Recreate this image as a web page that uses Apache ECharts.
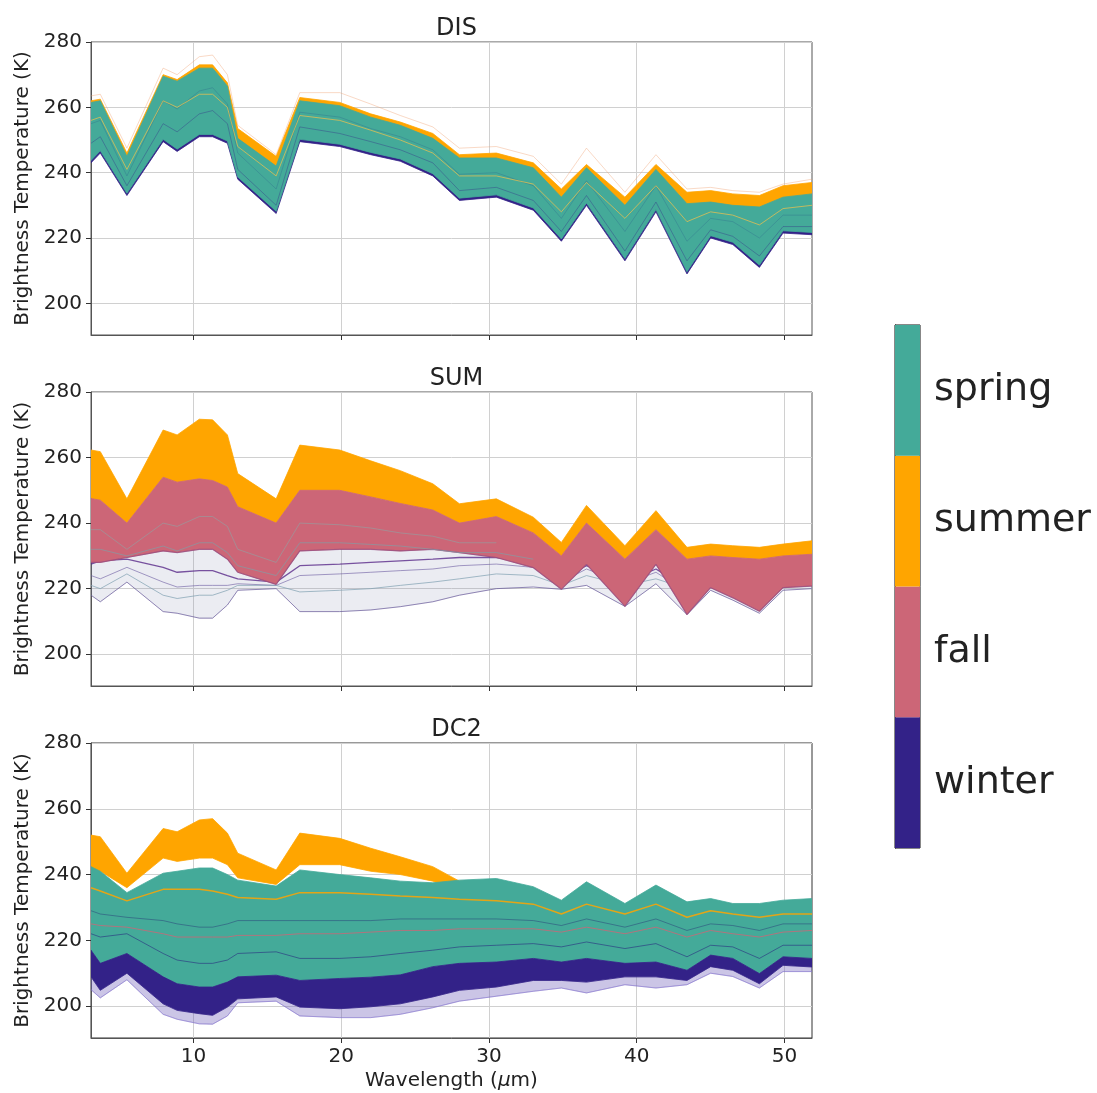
<!DOCTYPE html>
<html>
<head>
<meta charset="utf-8">
<script src="https://cdn.jsdelivr.net/npm/echarts@6/dist/echarts.min.js"></script>
<style>
html,body{margin:0;padding:0;background:#fff;}
#chart{width:1097px;height:1093px;}
</style>
</head>
<body>
<div id="chart"></div>
<script>
// ---------------- DATA ----------------
const wl = [3.07, 3.7, 5.5, 7.95, 8.9, 10.4, 11.3, 12.3, 13.0, 15.6, 17.2, 19.9, 22.0, 24.0, 26.2, 28.0, 30.5, 33.0, 34.9, 36.6, 39.2, 41.3, 43.4, 45.0, 46.5, 48.3, 49.9, 51.86];
const xTicks = [10, 20, 30, 40, 50];
const yTicks = [200, 220, 240, 260, 280];
const panelTitles = ['DIS', 'SUM', 'DC2'];
const seasonsCb = ['winter', 'fall', 'summer', 'spring'];
const seasonColors = { spring: '#44AA99', summer: '#FFA500', fall: '#CC6677', winter: '#332288' };

// DIS
const disSummerHi = [262, 262.5, 246, 270, 268.5, 273, 273, 267.5, 253.5, 245, 263, 261.5, 258, 255.5, 252, 245.5, 246, 243, 235, 242.5, 232.5, 242.5, 234, 234.5, 233.5, 233, 236, 237];
const disSummerLo = [257, 257.5, 241, 265, 263.5, 268, 268, 262.5, 248.5, 239.5, 258, 256.5, 253, 250.5, 247, 240.5, 241, 238, 229.5, 237.5, 227.5, 237.5, 228.5, 229.5, 228.5, 228, 231, 232];
const disSpringHi = [261.5, 262, 245, 269.5, 268, 272, 272, 266.5, 250.5, 242, 262, 260.5, 257, 254.5, 250.5, 244.5, 244.5, 241.5, 232.5, 241.5, 230, 241, 230.5, 231, 230, 229.5, 232.5, 233.5];
const disSpringLo = [243.7, 246.7, 233.7, 250.2, 247.2, 251.7, 251.7, 249.7, 238.7, 228.2, 250.2, 248.7, 246.2, 244.2, 239.7, 232.2, 233.2, 229.2, 219.7, 230.7, 213.7, 228.7, 209.7, 220.7, 218.7, 211.7, 222.2, 221.7];
const disWinterHi = [246.5, 249.5, 236.5, 253, 250, 254.5, 254.5, 252.5, 241.5, 231, 253, 251.5, 249, 247, 242.5, 235, 236, 232, 222.5, 233.5, 216.5, 231.5, 212.5, 223.5, 221.5, 214.5, 225, 224.5];
const disWinterLo = [243, 246, 233, 249.5, 246.5, 251, 251, 249, 238, 227.5, 249.5, 248, 245.5, 243.5, 239, 231.5, 232.5, 228.5, 219, 230, 213, 228, 209, 220, 218, 211, 221.5, 221];
const disWinterIn = [249, 251, 236, 255, 252.5, 258, 259, 255, 241, 230, 254, 252, 249.5, 247, 243, 234.5, 235.5, 231.5, 222, 233, 216, 231, 213, 222.5, 220.5, 214.5, 223.5, 223.5];
const disWinterIn2 = [255, 256, 239, 262, 259.5, 265, 266, 261, 246, 235, 258.5, 257, 253.5, 251, 247, 239.5, 240, 236, 226, 237.5, 222, 236, 219, 226, 225, 220, 227, 227];
const disSummerMid = [256, 257, 241, 262, 260, 264, 264, 260, 248, 239, 257.5, 256, 253, 250, 246, 239, 239, 236.5, 228, 237, 226, 236, 225, 228, 227, 224, 229, 230];
const disSummerOut = [263.5, 264, 247.5, 272, 270, 275.5, 276, 270, 254.5, 245.5, 264.5, 264.5, 261, 257.5, 254, 247.5, 248, 245, 236.5, 247.5, 234, 245.5, 235, 235.5, 234.5, 234, 236.5, 238];

// SUM
const sumSummerHi = [262.3, 261.8, 247.4, 268.4, 266.9, 271.7, 271.5, 266.9, 255.1, 247.4, 263.8, 262.3, 259, 256, 252, 245.9, 247.4, 241.8, 234.1, 245.4, 233.1, 243.8, 232.6, 233.6, 233.1, 232.6, 233.6, 234.6];
const sumFallHi = [247.5, 247, 240, 254, 252.5, 253.5, 253, 251, 245, 240, 250, 250, 248, 246, 244, 240, 242, 237, 230, 240, 229, 238, 229, 230, 229.5, 229, 230, 230.5];
const sumFallLo = [228, 228, 229.5, 231.5, 231, 232, 232, 229, 225, 221.3, 231.5, 232, 232, 231.5, 232, 231, 229.5, 226.4, 219.8, 227.4, 214.6, 227.4, 212.1, 220.3, 217.2, 213.1, 220.3, 220.8];
const sumLowest = [218, 216, 222, 213, 212.5, 211, 211, 215, 219.5, 220, 213, 213, 213.5, 214.5, 216, 218, 220, 220.5, 219.8, 221, 214.6, 221.5, 212.1, 219.5, 216.5, 212.5, 219.5, 220];
const sumWinterA = [227.5, 228.5, 229, 226.5, 225, 225.5, 225.5, 224, 223, 222, 227, 227.5, 228, 228.5, 229, 229.5, 229.5, 228, 223, 227, 222, 226, 220, 224, 222, 219, 222.5, 222.5];
const sumWinterB = [224, 223, 226.5, 222, 220.5, 221, 221, 221, 221.5, 221, 224, 224.5, 225, 225.5, 226, 227, 227.5, 226.5, 222, 226, 221.5, 225, 219, 223, 221.5, 218, 222, 222];
const sumSpringA = [221, 220, 224.5, 218, 217, 218, 218, 219.5, 221, 221, 219, 219.5, 220, 221, 222, 223, 224.5, 224, 221, 224, 221, 223, 220, 221, 220, 218, 220.5, 221];
const sumSpringB = [232, 232, 230, 233, 231.5, 234, 234, 231, 227, 224, 234, 234, 233.5, 233, 232, 231, 231, 229, null, null, null, null, null, null, null, null, null, null];
const sumSpringC = [238, 238, 232, 240, 239, 242, 242, 239, 232, 228, 240, 239.5, 238.5, 237, 236, 234, 234, null, null, null, null, null, null, null, null, null, null, null];

// DC2
const dc2SummerHi = [252, 251.5, 240.4, 254, 253, 256.6, 257, 252.6, 246.5, 241.4, 252.6, 251, 248, 245.4, 242.4, 238, 238, 235.5, 231.5, 237, 230.5, 236, 231, 232, 230.5, 230.5, 231.5, 232];
const dc2SummerLo = [241, 241, 236, 245, 244, 245, 245, 243, 239, 237, 243, 243, 241, 240, 238, 235.5, 235, 233, 229, 234, 228, 233, 228, 229, 228, 228, 229, 229.5];
const dc2SpringHi = [242.4, 241, 234.5, 240.4, 241, 242, 242, 240, 238.3, 236.5, 241.4, 240, 239, 238, 237.5, 238.3, 238.8, 236.3, 232.2, 237.8, 231.2, 236.8, 231.7, 232.7, 231.2, 231.2, 232.2, 232.7];
const dc2WinterHi = [217, 213, 216, 208.9, 206.8, 205.8, 205.8, 207.3, 208.9, 209.4, 207.8, 208.4, 208.8, 209.5, 212, 213, 213.4, 214.5, 213.4, 214.5, 213, 213.4, 210.9, 215.5, 214.5, 209.9, 215, 214.5];
const dc2WinterLo = [208.9, 204.8, 210, 200.7, 198.7, 197.7, 197.2, 199.7, 202.2, 202.8, 199.7, 199.2, 199.8, 200.7, 202.8, 204.8, 205.8, 207.8, 207.8, 207.3, 208.9, 208.9, 207.8, 212, 210.9, 206.8, 212.4, 211.9];
const dc2Lowest = [205, 202.5, 208, 197.5, 196, 194.6, 194.5, 197, 201, 201.5, 197, 196.5, 196.5, 197.5, 199.5, 201.5, 203, 204.5, 205.5, 204, 206.5, 205.5, 206.5, 210, 209, 205.5, 210.5, 210.5];
const dc2SummerMid = [236, 235, 232, 235.5, 235.5, 235.5, 235, 234, 233, 232.5, 234.5, 234.5, 234, 233.5, 233, 232.5, 232, 231, 228, 231, 228, 231, 227, 229, 228, 227, 228, 228];
const dc2FallLine = [225, 224.5, 224, 222, 221, 221, 221, 221, 221.5, 221.5, 222, 222, 222.5, 223, 223, 223.5, 223.5, 223.5, 222.5, 224, 222, 224, 221, 223, 222, 221, 222.5, 223];
const dc2WinterA = [222, 221, 222, 216, 214, 213, 213, 214, 216, 216.5, 214.5, 214.5, 215, 216, 217, 218, 218.5, 219, 218, 219.5, 217.5, 219, 215, 218.5, 218, 214.5, 218.5, 218.5];
const dc2WinterB = [229, 228, 227, 226, 225, 224, 224, 225, 226, 226, 226, 226, 226, 226.5, 226.5, 226.5, 226.5, 226, 224.5, 226.5, 224, 226.5, 223, 225, 224.5, 223, 225, 225];

// ---------------- CHART ----------------
const FONT = 'DejaVu Sans';
const panels = [
  { top: 42, height: 293, titleTop: 12 },
  { top: 392, height: 294, titleTop: 362 },
  { top: 743, height: 295, titleTop: 713 }
];

function bandSeries(gi, lo, hi, color, opacity) {
  return {
    type: 'custom', xAxisIndex: gi, yAxisIndex: gi, silent: true, clip: true,
    data: wl.map((x, i) => [x, lo[i], hi[i]]),
    encode: { x: 0, y: [1, 2] },
    renderItem: function (params, api) {
      if (params.dataIndex !== 0) return null;
      const top = wl.map((x, i) => api.coord([x, hi[i]]));
      const bot = wl.map((x, i) => api.coord([x, lo[i]])).reverse();
      return {
        type: 'polygon',
        shape: { points: top.concat(bot) },
        style: { fill: color, stroke: color, lineWidth: 0.8, opacity: opacity }
      };
    }
  };
}
function lineSeries(gi, ys, color, width, opacity) {
  return {
    type: 'line', xAxisIndex: gi, yAxisIndex: gi, silent: true,
    data: wl.map((x, i) => [x, ys[i]]),
    showSymbol: false, symbol: 'none', connectNulls: false,
    lineStyle: { color: color, width: width, opacity: opacity }
  };
}

const C = seasonColors;
const series = [
  // DIS
  bandSeries(0, disSummerLo, disSummerHi, C.summer, 1),
  bandSeries(0, disWinterLo, disWinterHi, C.winter, 1),
  bandSeries(0, disSpringLo, disSpringHi, C.spring, 1),
  lineSeries(0, disWinterIn, C.winter, 1, 0.35),
  lineSeries(0, disWinterIn2, '#2c5f8a', 1, 0.3),
  lineSeries(0, disSummerMid, '#f3c04a', 1, 0.7),
  lineSeries(0, disSummerOut, '#f0a070', 1, 0.4),
  // SUM
  bandSeries(1, sumLowest, sumFallLo, '#8088b0', 0.16),
  lineSeries(1, sumWinterA, '#5a2a8a', 1.3, 0.8),
  lineSeries(1, sumWinterB, '#6a5aa0', 1, 0.6),
  lineSeries(1, sumSpringA, '#7fa0b0', 1, 0.7),
  lineSeries(1, sumLowest, '#6a5a9a', 1, 0.7),
  bandSeries(1, sumFallHi, sumSummerHi, C.summer, 1),
  bandSeries(1, sumFallLo, sumFallHi, C.fall, 1),
  lineSeries(1, sumFallLo, '#7a3a80', 1.2, 0.5),
  lineSeries(1, sumSpringC, '#8aa7a8', 1, 0.55),
  lineSeries(1, sumSpringB, '#7e9fa8', 1, 0.65),
  // DC2
  bandSeries(2, dc2SummerLo, dc2SummerHi, C.summer, 1),
  bandSeries(2, dc2WinterHi, dc2SpringHi, C.spring, 1),
  bandSeries(2, dc2Lowest, dc2WinterLo, '#6a5ab8', 0.35),
  bandSeries(2, dc2WinterLo, dc2WinterHi, C.winter, 1),
  lineSeries(2, dc2SummerMid, C.summer, 1.5, 0.85),
  lineSeries(2, dc2FallLine, C.fall, 1, 0.8),
  lineSeries(2, dc2WinterB, '#2a3f7a', 1, 0.5),
  lineSeries(2, dc2WinterA, '#2a2f80', 1, 0.6),
  lineSeries(2, dc2Lowest, '#8a7ad0', 1, 0.6),
  // colorbar
  {
    type: 'bar', xAxisIndex: 3, yAxisIndex: 3, silent: true,
    barWidth: '100%', barCategoryGap: '0%',
    data: seasonsCb.map(s => ({ value: 1, itemStyle: { color: seasonColors[s] } }))
  }
];
series.forEach((s, k) => { s.z = 2 + k * 0.01; s.animation = false; });

const grids = panels.map((p, i) => ({
  left: 91, top: p.top, width: 721, height: p.height,
  show: true, borderColor: i === 2 ? '#333' : '#555', borderWidth: 1, backgroundColor: 'rgba(0,0,0,0)'
}));
grids.push({ left: 895, top: 325, width: 25, height: 523, show: true, borderColor: '#111', borderWidth: 1 });

const xAxes = panels.map((p, i) => ({
  gridIndex: i, type: 'value', min: 3.07, max: 51.86,
  axisLine: { show: true, onZero: false, lineStyle: { color: '#555', width: 1 } },
  axisTick: { show: true, length: 5, customValues: xTicks, lineStyle: { color: '#333' } },
  axisLabel: { show: i === 2, customValues: xTicks, fontSize: 20, color: '#222', margin: 9, fontFamily: FONT },
  splitLine: { show: true, lineStyle: { color: '#d0d0d0', width: 1 } },
  name: i === 2 ? 'Wavelength ({i|μ}m)' : '',
  nameLocation: 'middle', nameGap: 33,
  nameTextStyle: { fontSize: 20, color: '#222', fontFamily: FONT, rich: { i: { fontStyle: 'italic', fontSize: 20, fontFamily: FONT, color: '#222' } } }
}));
xAxes.push({ gridIndex: 3, type: 'value', min: 0, max: 1, show: false });

const yAxes = panels.map((p, i) => ({
  gridIndex: i, type: 'value', min: 190.3, max: 280,
  axisLine: { show: true, lineStyle: { color: '#555', width: 1 } },
  axisTick: { show: true, length: 5, customValues: yTicks, lineStyle: { color: '#333' } },
  axisLabel: { customValues: yTicks, fontSize: 20, color: '#222', margin: 9, fontFamily: FONT },
  splitLine: { show: true, lineStyle: { color: '#d0d0d0', width: 1 } },
  name: 'Brightness Temperature (K)', nameLocation: 'middle', nameGap: 56,
  nameTextStyle: { fontSize: 20, color: '#222', fontFamily: FONT }
}));
yAxes.push({
  gridIndex: 3, type: 'category', data: seasonsCb, position: 'right',
  axisLine: { show: true, lineStyle: { color: '#111' } },
  axisTick: { show: true, length: 5, alignWithLabel: true, lineStyle: { color: '#333' } },
  axisLabel: { fontSize: 38, color: '#222', margin: 14, fontFamily: FONT, padding: [10, 0, 0, 0] },
  splitLine: { show: false }
});

const option = {
  animation: false,
  backgroundColor: '#fff',
  textStyle: { fontFamily: FONT },
  title: panels.map((p, i) => ({
    text: panelTitles[i], left: 451.5, top: p.titleTop, textAlign: 'center',
    textStyle: { fontSize: 24, fontWeight: 'normal', color: '#222', fontFamily: FONT }
  })),
  grid: grids,
  xAxis: xAxes,
  yAxis: yAxes,
  series: series
};

const chart = echarts.init(document.getElementById('chart'), null, { renderer: 'canvas' });
chart.setOption(option);
</script>
</body>
</html>
